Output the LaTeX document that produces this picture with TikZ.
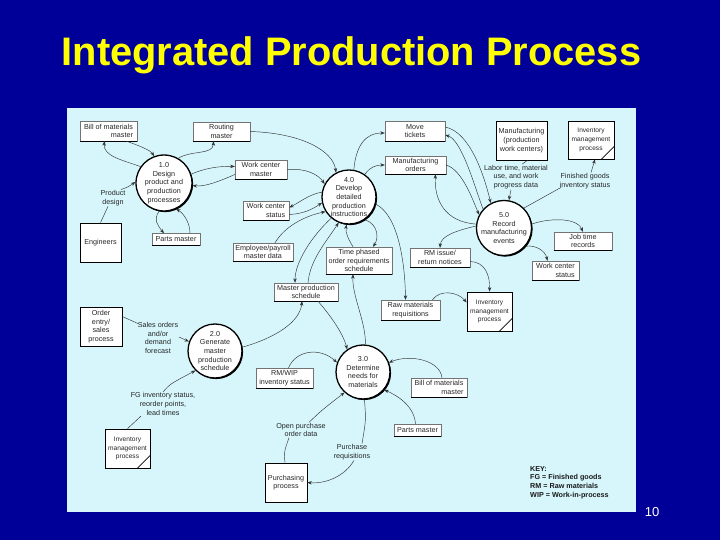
\documentclass[tikz,border=0pt]{standalone}
\usepackage{fontspec}
\setmainfont{Liberation Sans}
\usetikzlibrary{arrows.meta,shadows}
\definecolor{bgblue}{RGB}{0,0,153}
\definecolor{panel}{RGB}{214,246,252}
\definecolor{titley}{RGB}{255,255,0}
\newcommand\dfont{\fontsize{7.2}{8.7}\selectfont}
\newcommand\sfontx{\fontsize{6.6}{8.7}\selectfont}
\newcommand\kfont{\fontsize{7.2}{8.8}\selectfont\bfseries}
\begin{document}
\begin{tikzpicture}[x=1pt,y=-1pt,
  ds/.style={fill=white, draw=black!55, line width=0.4pt, inner sep=0pt, font=\dfont, align=center, text=black!85,
    append after command={(\tikzlastnode.south west) edge[draw=black,line width=0.9pt] (\tikzlastnode.south east)}},
  ee/.style={fill=white, draw=black, line width=0.7pt, inner sep=0pt, font=\dfont, align=center, text=black!85,
    drop shadow={opacity=1, fill=black, shadow xshift=1.4pt, shadow yshift=-1.4pt}},
  proc/.style={circle, fill=white, draw=black, line width=1.3pt, minimum size=54pt, inner sep=0pt, font=\dfont, align=center, text=black!85,
    drop shadow={opacity=1, fill=black, shadow xshift=1.1pt, shadow yshift=-1.1pt}},
  lbl/.style={font=\dfont, align=center, text=black!85, inner sep=0.5pt},
  flow/.style={draw=black!80, line width=0.45pt, -{Stealth[length=4.5pt,width=3.4pt]}},
  plain/.style={draw=black!80, line width=0.45pt},
  diag/.style={draw=black, line width=0.7pt},
]
\useasboundingbox (0,0) rectangle (720,540);
\fill[bgblue] (0,0) rectangle (720,540);
\fill[panel] (67,108) rectangle (636,512);

\node[anchor=base, text=titley, font=\fontsize{39.8}{44}\selectfont\bfseries] (title) at (351.5,66) {Integrated Production Process};
\node[anchor=base, text=white, font=\fontsize{13}{15}\selectfont] (pg) at (652,516) {10};

% data stores
\node[ds, minimum width=57pt, minimum height=20pt, align=right] (bom1) at (108.5,131) {Bill of materials\\master};
\node[ds, minimum width=57pt, minimum height=19pt] (rout) at (221.5,131.5) {Routing\\master};
\node[ds, minimum width=52pt, minimum height=19pt] (wcm) at (261,169.5) {Work center\\master};
\node[ds, minimum width=46pt, minimum height=19pt, align=right] (wcs1) at (266,210.5) {Work center\\status};
\node[ds, minimum width=48pt, minimum height=12pt] (pm1) at (176,239.5) {Parts master};
\node[ds, minimum width=60pt, minimum height=18pt] (epm) at (263,252) {Employee/payroll\\master data};
\node[ds, minimum width=66pt, minimum height=27pt] (tps) at (359,260.5) {Time phased\\order requirements\\schedule};
\node[ds, minimum width=60pt, minimum height=20pt] (mt) at (415,131) {Move\\tickets};
\node[ds, minimum width=61pt, minimum height=18pt] (mo) at (415.5,165) {Manufacturing\\orders};
\node[ds, minimum width=58pt, minimum height=18pt] (jtr) at (583,241) {Job time\\records};
\node[ds, minimum width=47pt, minimum height=19pt, align=right] (wcs2) at (555.5,270.5) {Work center\\status};
\node[ds, minimum width=60pt, minimum height=19pt] (rmi) at (440,257.5) {RM issue/\\return notices};
\node[ds, minimum width=59pt, minimum height=20pt] (rmr) at (410.5,310) {Raw materials\\requisitions};
\node[ds, minimum width=64pt, minimum height=18pt] (mps) at (306,292) {Master production\\schedule};
\node[ds, minimum width=57pt, minimum height=20pt] (rmwip) at (284.5,378) {RM/WIP\\inventory status};
\node[ds, minimum width=56pt, minimum height=19pt, align=right] (bom2) at (439,387.5) {Bill of materials\\master};
\node[ds, minimum width=47pt, minimum height=12pt] (pm2) at (417.5,430) {Parts master};

% external entities
\node[ee, minimum width=41pt, minimum height=39pt] (eng) at (100.5,242.5) {Engineers};
\node[ee, minimum width=51pt, minimum height=39pt] (mfg) at (521.5,140.5) {Manufacturing\\(production\\work centers)};
\node[ee, minimum width=46pt, minimum height=38pt, font=\sfontx] (imp1) at (591,140) {Inventory\\management\\process};
\node[ee, minimum width=45pt, minimum height=39pt, font=\sfontx] (imp2) at (489.5,311.5) {Inventory\\management\\process};
\node[ee, minimum width=42pt, minimum height=39pt] (oe) at (101,326.5) {Order\\entry/\\sales\\process};
\node[ee, minimum width=45pt, minimum height=39pt, font=\sfontx] (imp3) at (127.5,448.5) {Inventory\\management\\process};
\node[ee, minimum width=42pt, minimum height=39pt] (purch) at (286,482.5) {Purchasing\\process};
\draw[diag] ([xshift=-13pt]imp1.south east) -- ([yshift=13pt]imp1.south east);
\draw[diag] ([xshift=-13pt]imp2.south east) -- ([yshift=13pt]imp2.south east);
\draw[diag] ([xshift=-13pt]imp3.south east) -- ([yshift=13pt]imp3.south east);

% processes
\node[proc] (c1) at (164,183) {1.0\\Design\\product and\\production\\processes};
\node[proc] (c4) at (349,197) {4.0\\Develop\\detailed\\production\\instructions};
\node[proc] (c5) at (504,228) {5.0\\Record\\manufacturing\\events};
\node[proc] (c2) at (215,351) {2.0\\Generate\\master\\production\\schedule};
\node[proc] (c3) at (363,372) {3.0\\Determine\\needs for\\materials};

% flow labels
\node[lbl] (pd) at (113,198) {Product\\design};
\node[lbl] (labor) at (516,177) {Labor time, material\\use, and work\\progress data};
\node[lbl] (fg) at (585,181) {Finished goods\\inventory status};
\node[lbl] (sales) at (158,338) {Sales orders\\and/or\\demand\\forecast};
\node[lbl] (fginv) at (163,404) {FG inventory status,\\reorder points,\\lead times};
\node[lbl] (opo) at (301,430) {Open purchase\\order data};
\node[lbl] (preq) at (352,452) {Purchase\\requisitions};

\node[anchor=north west, font=\kfont, align=left, text=black!90, inner sep=0pt] (key) at (530,466) {KEY:\\FG = Finished goods\\RM = Raw materials\\WIP = Work-in-process};

% flows around 1.0
\draw[flow] (c1.145) .. controls (122,160) and (103,156) .. ([xshift=-4pt]bom1.south);
\draw[flow] ([xshift=18pt]bom1.south) .. controls (140,146) and (150,150) .. (c1.110);
\draw[flow] (c1.60) .. controls (192,150) and (213,155) .. ([xshift=-8pt]rout.south);
\draw[flow] (c1.18) .. controls (205,168) and (220,166) .. ([yshift=3pt]wcm.west);
\draw[flow] ([yshift=-5pt]wcm.west) .. controls (220,181) and (205,187) .. (c1.-5);
\draw[flow] (c1.-100) .. controls (153,220) and (158,226) .. ([xshift=-12pt]pm1.north);
\draw[flow] ([xshift=14pt]pm1.north) .. controls (190,222) and (183,213) .. (c1.-65);
\draw[plain] (eng.north) -- ([xshift=-5pt]pd.south);
\draw[flow] ([xshift=8pt]pd.north) .. controls (128,187) .. (c1.178);

% flows around 4.0
\draw[flow] (rout.east) .. controls (300,133) and (333,150) .. (c4.118);
\draw[flow] (wcm.east) .. controls (305,168) and (318,174) .. (c4.152);
\draw[flow] (c4.170) .. controls (310,194) and (300,202) .. ([yshift=3pt]wcs1.east);
\draw[flow] ([yshift=-4pt]wcs1.east) .. controls (303,214) and (313,209) .. (c4.192);
\draw[flow] (c4.80) .. controls (356,146) and (365,133) .. ([yshift=-2pt]mt.west);
\draw[flow] (c4.55) .. controls (370,167) and (376,165) .. (mo.west);
\draw[flow] ([xshift=12pt]epm.north) .. controls (285,226) and (305,216) .. (c4.212);
\draw[flow] ([xshift=-6pt]tps.north) .. controls (349,240) and (345,233) .. (c4.-95);
\draw[flow] (c4.-55) .. controls (378,224) and (379,238) .. ([xshift=14pt]tps.north);
\draw[flow] (c4.-130) .. controls (312,236) and (295,262) .. ([xshift=-11pt]mps.north);
\draw[flow] ([xshift=2pt]mps.north) .. controls (310,260) and (326,242) .. (c4.-112);
\draw[flow] (c4.-15) .. controls (398,215) and (405,262) .. ([xshift=-5pt]rmr.north);

% flows around 5.0
\draw[flow] ([yshift=4pt]mt.east) .. controls (470,132) and (484,175) .. (c5.118);
\draw[flow] (c5.138) .. controls (475,188) and (462,140) .. ([yshift=-4pt]mt.east);
\draw[flow] (mo.east) .. controls (462,170) and (472,198) .. (c5.152);
\draw[flow] (c5.172) .. controls (445,222) and (434,200) .. ([xshift=20pt]mo.south);
\draw[plain] ([xshift=6pt]mfg.south) -- ([xshift=6pt]labor.north);
\draw[flow] ([xshift=-5pt]labor.south) -- (c5.80);
\draw[plain] (c5.45) -- ([xshift=2pt,yshift=2pt]fg.south west);
\draw[flow] ([xshift=6pt]fg.north) -- ([xshift=4pt]imp1.south);
\draw[flow] (c5.8) .. controls (545,219) and (576,216) .. (jtr.north);
\draw[flow] (c5.-40) .. controls (535,245) and (545,250) .. ([xshift=-8pt]wcs2.north);
\draw[flow] (c5.176) .. controls (455,231) and (441,236) .. (rmi.north);
\draw[flow] ([yshift=-4pt]rmi.east) .. controls (485,262) and (490,275) .. (imp2.north);
\draw[flow] ([xshift=22pt]rmr.north) .. controls (440,289) and (458,292) .. ([yshift=9pt]imp2.west);

% flows around 2.0 and 3.0
\draw[plain] ([yshift=10pt]oe.east) -- ([xshift=1pt,yshift=-2pt]sales.north west);
\draw[flow] ([yshift=1pt]sales.east) -- (c2.160);
\draw[flow] (c2.8) .. controls (275,338) and (300,322) .. ([xshift=-4pt]mps.south);
\draw[flow] ([xshift=12pt]mps.south) .. controls (330,315) and (343,333) .. (c3.125);
\draw[flow] (c3.85) .. controls (366,322) and (352,296) .. ([xshift=-6pt]tps.south);
\draw[flow] ([xshift=4pt]rmwip.north) .. controls (296,350) and (320,347) .. (c3.160);
\draw[flow] ([xshift=3pt]bom2.north) .. controls (440,360) and (410,354) .. (c3.20);
\draw[flow] ([xshift=-2pt]pm2.north) .. controls (414,405) and (396,395) .. (c3.-40);
\draw[plain] (c3.-87) .. controls (366,420) .. ([xshift=10pt]preq.north);
\draw[flow] ([xshift=2pt]preq.south) .. controls (345,476) and (326,484) .. (purch.east);
\draw[plain] ([xshift=-1pt]purch.north) .. controls (284,452) .. ([xshift=-12pt]opo.south);
\draw[flow] ([xshift=8pt]opo.north) .. controls (322,410) .. (c3.-132);
\draw[plain] (imp3.north) -- ([xshift=-22pt]fginv.south);
\draw[flow] (fginv.north) .. controls (170,384) .. (c2.-135);
\end{tikzpicture}
\end{document}
